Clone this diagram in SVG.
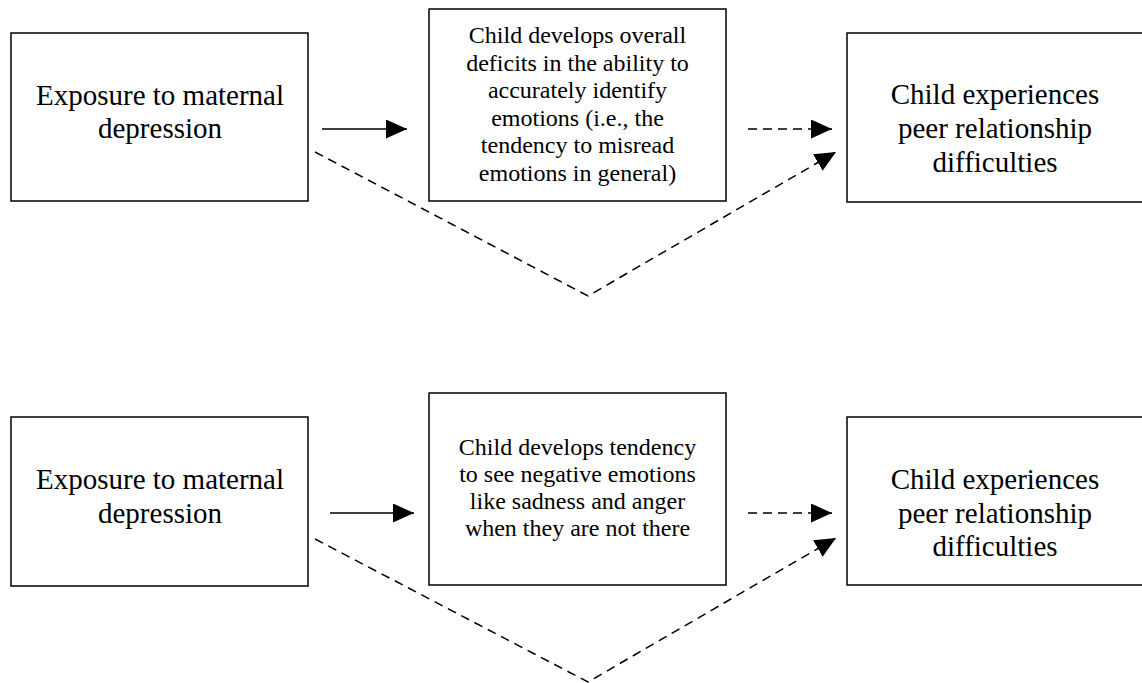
<svg xmlns="http://www.w3.org/2000/svg" width="1142" height="683" viewBox="0 0 1142 683">
<style>
.box{fill:#fff;stroke:#000;stroke-width:1.5}
.big{font-family:'Liberation Serif','Times New Roman',serif;font-size:29px;fill:#000;text-anchor:middle}
.sm{font-family:'Liberation Serif','Times New Roman',serif;font-size:24px;fill:#000;text-anchor:middle}
.solid{stroke:#000;stroke-width:1.5;fill:none}
.dash{stroke:#000;stroke-width:1.5;fill:none;stroke-dasharray:9 6}
</style>
<defs>
<marker id="ah" markerUnits="userSpaceOnUse" markerWidth="22" markerHeight="20" refX="21" refY="9.5" orient="auto" viewBox="0 0 22 20">
<path d="M0,0 L21,9.5 L0,19 z" fill="#000"/>
</marker>
</defs>
<rect width="1142" height="683" fill="#fff"/>
<g id="connectors">
<line class="solid" x1="322" y1="129" x2="407" y2="129" marker-end="url(#ah)"/>
<line class="dash" x1="748" y1="129" x2="832" y2="129" marker-end="url(#ah)"/>
<polyline class="dash" points="315,152 588,296 836,152" marker-end="url(#ah)"/>
<line class="solid" x1="330" y1="513" x2="414" y2="513" marker-end="url(#ah)"/>
<line class="dash" x1="748" y1="513" x2="832" y2="513" marker-end="url(#ah)"/>
<polyline class="dash" points="315,539 588,682 836,538" marker-end="url(#ah)"/>
</g>
<g id="top-exposure">
<rect class="box" x="11" y="33" width="297" height="168"/>
<text class="big" x="160" y="105">Exposure to maternal</text>
<text class="big" x="160" y="138">depression</text>
</g>
<g id="top-deficits">
<rect class="box" x="429" y="9" width="297" height="192"/>
<text class="sm" x="577.5" y="43">Child develops overall</text>
<text class="sm" x="577.5" y="70.5">deficits in the ability to</text>
<text class="sm" x="577.5" y="98">accurately identify</text>
<text class="sm" x="577.5" y="125.5">emotions (i.e., the</text>
<text class="sm" x="577.5" y="153">tendency to misread</text>
<text class="sm" x="577.5" y="180.5">emotions in general)</text>
</g>
<g id="top-peer">
<rect class="box" x="847" y="33" width="310" height="169"/>
<text class="big" x="995" y="104">Child experiences</text>
<text class="big" x="995" y="138">peer relationship</text>
<text class="big" x="995" y="172">difficulties</text>
</g>
<g id="bottom-exposure">
<rect class="box" x="11" y="417" width="297" height="169"/>
<text class="big" x="160" y="489">Exposure to maternal</text>
<text class="big" x="160" y="523">depression</text>
</g>
<g id="bottom-negative">
<rect class="box" x="429" y="393" width="297" height="192"/>
<text class="sm" x="577.5" y="455">Child develops tendency</text>
<text class="sm" x="577.5" y="482">to see negative emotions</text>
<text class="sm" x="577.5" y="509">like sadness and anger</text>
<text class="sm" x="577.5" y="536">when they are not there</text>
</g>
<g id="bottom-peer">
<rect class="box" x="847" y="417" width="310" height="168"/>
<text class="big" x="995" y="489">Child experiences</text>
<text class="big" x="995" y="523">peer relationship</text>
<text class="big" x="995" y="556">difficulties</text>
</g>
</svg>
